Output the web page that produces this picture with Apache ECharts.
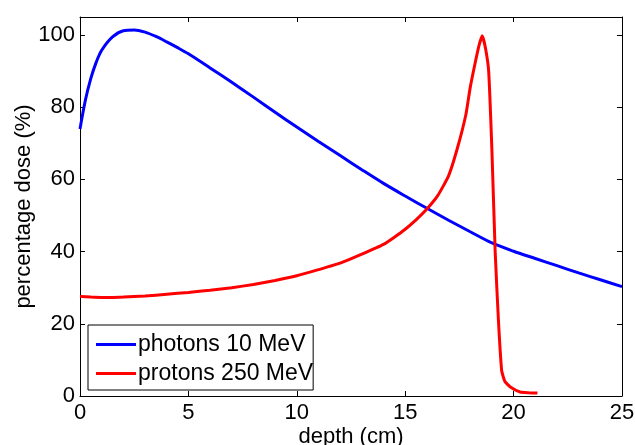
<!DOCTYPE html>
<html>
<head>
<meta charset="utf-8">
<script src="https://cdn.jsdelivr.net/npm/echarts@6/dist/echarts.min.js"></script>
<style>
html,body{margin:0;padding:0;background:#fff;}
#chart{width:635px;height:445px;}
</style>
</head>
<body>
<div id="chart"></div>
<script>
var photonX = [0,0.25,0.5,0.75,1,1.5,2,2.5,3,3.5,4,4.5,5,6,7,8,9,10,11,12,13,14,15,16,17,18,19,20,21,22,23,24,25];
var photonY = [74,82,88,92.5,95.8,99.5,101.2,101.4,100.8,99.6,98.1,96.5,94.8,90.9,86.9,82.8,78.6,74.5,70.5,66.6,62.7,58.9,55.4,52.0,48.7,45.5,42.4,40.1,38.1,36.1,34.1,32.2,30.3];
var protonX = [0,0.5,1,1.5,2,3,4,5,6,7,8,9,10,11,12,13,14,14.5,15,15.5,16,16.5,17,17.4,17.8,18,18.2,18.4,18.55,18.7,18.85,19,19.15,19.3,19.45,19.6,19.85,20.3,20.7,21.1];
var protonY = [27.6,27.4,27.3,27.3,27.4,27.7,28.2,28.7,29.3,30.0,30.9,32.0,33.3,35.0,36.8,39.3,42.0,44.0,46.2,48.8,51.8,55.5,61.0,68.5,78,85.5,91.5,97,99.8,96.5,90,68,40,21,7,4,2.5,1.1,0.9,0.8];
var xTicks = [0,5,10,15,20,25];
var yTicks = [0,20,40,60,80,100];
var seriesNames = ['photons 10 MeV','protons 250 MeV'];
var xName = 'depth (cm)';
var yName = 'percentage dose (%)';

function pairs(xs, ys){ return xs.map(function(x,i){ return [x, ys[i]]; }); }

var font = 'Liberation Sans, Arial, sans-serif';
var axisLine = {show:true, onZero:false, lineStyle:{color:'#000', width:1}};
var tick = {show:true, inside:true, length:5, lineStyle:{color:'#000', width:1}};

var chart = echarts.init(document.getElementById('chart'), null, {renderer:'canvas'});
chart.setOption({
  animation:false,
  backgroundColor:'#fff',
  grid:{left:80, right:13, top:17, bottom:49, containLabel:false, outerBoundsMode:'none'},
  legend:{
    orient:'vertical', left:88, top:325,
    data:seriesNames,
    icon:'rect', itemWidth:40, itemHeight:3, itemGap:6,
    padding:[8,0,5,8],
    borderColor:'#000', borderWidth:1, backgroundColor:'#fff',
    textStyle:{fontFamily:font, fontSize:23, color:'#000', padding:[0,0,0,-3]}
  },
  xAxis:[{
    type:'value', min:0, max:25, interval:5, position:'bottom',
    name:xName, nameLocation:'middle', nameGap:30, nameMoveOverlap:false,
    nameTextStyle:{fontFamily:font, fontSize:22, color:'#000'},
    axisLine:axisLine, axisTick:tick,
    axisLabel:{fontFamily:font, fontSize:22, color:'#000', margin:6,
      formatter:function(v){ return xTicks.indexOf(v)>=0 ? String(v) : ''; }},
    splitLine:{show:false}
  },{
    type:'value', min:0, max:25, interval:5, position:'top',
    axisLine:axisLine, axisTick:tick, axisLabel:{show:false}, splitLine:{show:false}
  }],
  yAxis:[{
    type:'value', min:0, max:105, interval:20, position:'left',
    name:yName, nameLocation:'middle', nameGap:45, nameMoveOverlap:false,
    nameTextStyle:{fontFamily:font, fontSize:22, color:'#000'},
    axisLine:axisLine, axisTick:tick,
    axisLabel:{fontFamily:font, fontSize:22, color:'#000', margin:5,
      formatter:function(v){ return yTicks.indexOf(v)>=0 ? String(v) : ''; }},
    splitLine:{show:false}
  },{
    type:'value', min:0, max:105, interval:20, position:'right',
    axisLine:axisLine, axisTick:tick, axisLabel:{show:false}, splitLine:{show:false}
  }],
  series:[{
    name:seriesNames[0], type:'line', data:pairs(photonX, photonY),
    showSymbol:false, symbol:'none', smooth:0.3,
    lineStyle:{color:'#0000ff', width:3}, itemStyle:{color:'#0000ff'}, z:2
  },{
    name:seriesNames[1], type:'line', data:pairs(protonX, protonY),
    showSymbol:false, symbol:'none', smooth:0.15,
    lineStyle:{color:'#ff0000', width:3}, itemStyle:{color:'#ff0000'}, z:3
  }]
});
</script>
</body>
</html>
